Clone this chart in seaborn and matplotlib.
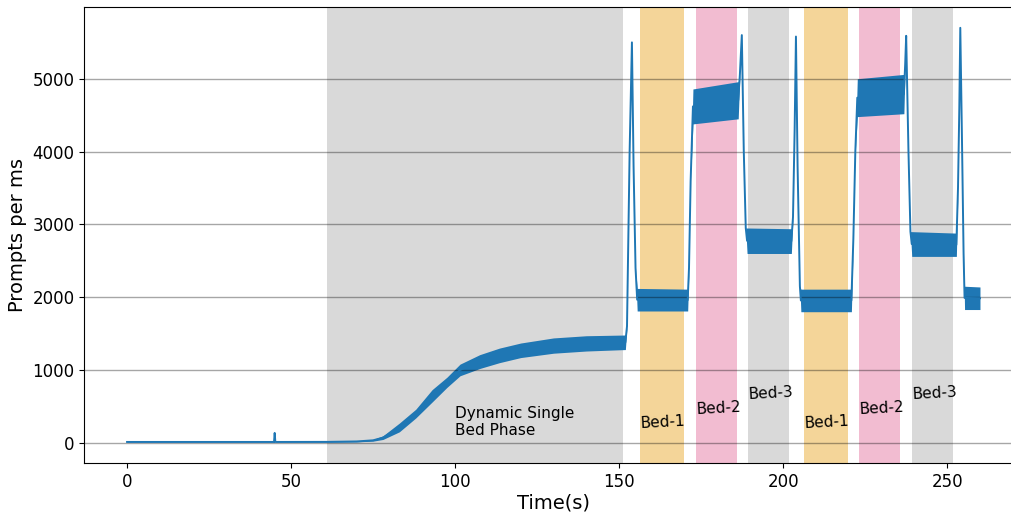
# Prompts per ms over a dynamic + step-and-shoot acquisition

import numpy as np
import pandas as pd

import matplotlib
matplotlib.use("Agg")
import matplotlib.pyplot as plt

import seaborn as sns

# Envelope of the noisy signal (time in s, low/high in prompts per ms)
time_s = [0, 44.8, 45.0, 45.2, 61, 70, 75, 78, 83, 88, 93, 97.5, 101.5, 107.5,
          113.5, 120, 130, 140, 151.9,
          152.4, 153.2, 153.9, 154.4, 155.0, 155.5,
          170.9, 171.3, 171.8, 172.5,
          186.3, 186.8, 187.4, 188.0, 188.6, 189.0,
          202.5, 203.0, 203.5, 203.9, 204.4, 205.1, 205.4,
          220.8, 221.4, 222.0, 222.6,
          236.8, 237.2, 237.5, 238.2, 238.8, 239.2,
          252.8, 253.3, 253.7, 254.0, 254.5, 255.0, 255.3,
          260.0]
rate_low = [8, 8, 135, 8, 8, 12, 22, 45, 150, 340, 560, 760, 920, 1020,
            1100, 1170, 1230, 1260, 1280,
            1600, 4000, 5500, 3800, 2400, 1810,
            1810, 2400, 3600, 4380,
            4450, 5050, 5600, 4000, 2950, 2600,
            2600, 3100, 4300, 5580, 3800, 2150, 1800,
            1800, 2800, 4000, 4480,
            4520, 5200, 5590, 4000, 2900, 2560,
            2560, 3500, 4600, 5700, 4200, 2600, 1830,
            1830]
rate_high = [14, 14, 135, 14, 16, 24, 45, 95, 270, 460, 730, 900, 1080, 1210,
             1300, 1370, 1440, 1470, 1480,
             1600, 4000, 5500, 3800, 2400, 2120,
             2110, 2400, 3600, 4860,
             4960, 5050, 5600, 4000, 2950, 2950,
             2940, 3100, 4300, 5580, 3800, 2150, 2110,
             2110, 2800, 4000, 5000,
             5060, 5200, 5590, 4000, 2900, 2900,
             2880, 3500, 4600, 5700, 4200, 2600, 2150,
             2140]

# Shaded acquisition phases
phase_names = ["Dynamic", "Bed-1", "Bed-2", "Bed-3", "Bed-1", "Bed-2", "Bed-3"]
phase_start = [61.0, 156.4, 173.5, 189.3, 206.4, 223.2, 239.3]
phase_end = [151.2, 169.8, 186.0, 201.8, 219.8, 235.7, 251.8]
bed_label_y = {"Bed-1": 200, "Bed-2": 400, "Bed-3": 600}

phase_colors = {"Dynamic": "#d9d9d9", "Bed-1": "#f4d599",
                "Bed-2": "#f2bcd1", "Bed-3": "#d9d9d9"}

df = pd.DataFrame({
    "Time(s)": np.concatenate([time_s, time_s]),
    "Prompts per ms": np.concatenate([rate_low, rate_high]),
})

fig = plt.figure(figsize=(10.11, 5.13), dpi=100)
ax = fig.add_axes([0.0835, 0.0965, 0.928, 0.889])

for name, s, e in zip(phase_names, phase_start, phase_end):
    ax.axvspan(s, e, color=phase_colors[name], lw=0, zorder=0)

ax.yaxis.grid(True, color="black", alpha=0.35, lw=1)
ax.set_axisbelow("line")

sns.lineplot(
    data=df,
    x="Time(s)",
    y="Prompts per ms",
    estimator="mean",
    errorbar=("pi", 100),
    err_kws={"alpha": 1, "linewidth": 0},
    color="#1f77b4",
    lw=1.4,
    ax=ax,
)

ax.text(100, 60, "Dynamic Single\nBed Phase", fontsize=11, ha="left", va="bottom")
for name, s in zip(phase_names[1:], phase_start[1:]):
    ax.text(s, bed_label_y[name], name, fontsize=11, rotation=3,
            rotation_mode="anchor", ha="left", va="baseline")

ax.set_xlim(-13, 273)
ax.set_ylim(-285, 5980)
ax.set_xticks([0, 50, 100, 150, 200, 250])
ax.set_yticks([0, 1000, 2000, 3000, 4000, 5000])
ax.tick_params(labelsize=12)
ax.set_xlabel("Time(s)", fontsize=14, labelpad=2)
ax.set_ylabel("Prompts per ms", fontsize=14)

fig.savefig("out.png", dpi=100)
plt.close(fig)
